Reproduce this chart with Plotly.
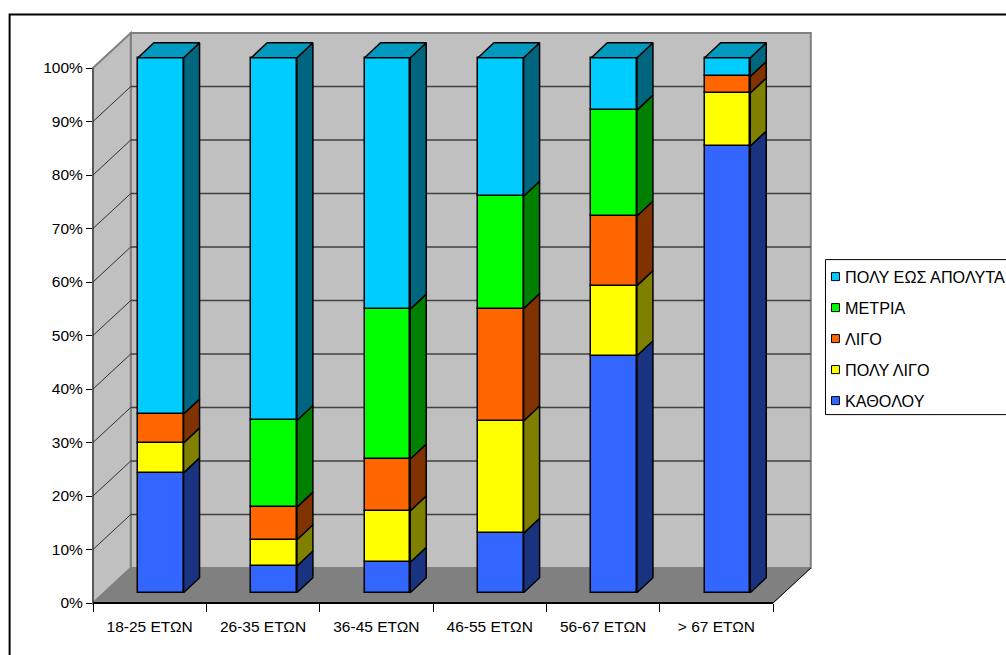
import numpy as np
import plotly.graph_objects as go

# ---- data -------------------------------------------------------------
categories = ["18-25 ΕΤΩΝ", "26-35 ΕΤΩΝ", "36-45 ΕΤΩΝ", "46-55 ΕΤΩΝ", "56-67 ΕΤΩΝ", "> 67 ΕΤΩΝ"]
series_names = ["ΚΑΘΟΛΟΥ", "ΠΟΛΥ ΛΙΓΟ", "ΛΙΓΟ", "ΜΕΤΡΙΑ", "ΠΟΛΥ ΕΩΣ ΑΠΟΛΥΤΑ"]
katholou = [22.4, 5.0, 5.7, 11.1, 44.3, 83.5]
poly_ligo = [5.6, 4.9, 9.6, 21.0, 13.1, 9.9]
ligo = [5.4, 6.1, 9.7, 21.0, 13.0, 3.1]
metria = [0.0, 16.2, 28.0, 21.0, 19.8, 0.0]
poly_eos_apolyta = [66.6, 67.8, 47.0, 25.9, 9.8, 3.5]
percent_ticks = list(range(0, 101, 10))

front_colors = ["#3366FF", "#FFFF00", "#FF6600", "#00FF00", "#00CCFF"]
side_colors = ["#1A3380", "#808000", "#803300", "#008000", "#006680"]
top_color = "#0099BF"

# ---- oblique projection: one category = 113.5 px, one percent = 5.35 px
PX_X, PX_Y = 113.5, 5.35
LEFT, BOTTOM, WIDTH, HEIGHT = 92.5, 603.4, 719, 571
x_max, y_max = WIDTH / PX_X, HEIGHT / PX_Y
DEPTH_X, DEPTH_Y = 37.8 / PX_X, 35 / PX_Y      # full depth of the chart box
BAR_DX, BAR_DY = 10.2 / PX_X, 10.3 / PX_Y      # front face of a bar inside the box
SIDE_DX, SIDE_DY = 16 / PX_X, 15 / PX_Y        # depth of a bar
BAR_WIDTH = 45.7 / PX_X
BAR_INSET = 34.8 / PX_X


def paper_x(px):
    return (px - LEFT) / WIDTH


def paper_y(py):
    return (BOTTOM - py) / HEIGHT


def polygon(points, **style):
    """Box wall drawn under the traces; points are in axis units."""
    path = "M" + " L".join(f"{x / x_max:.5f},{y / y_max:.5f}" for x, y in points) + " Z"
    return dict(type="path", xref="paper", yref="paper", path=path, layer="below", **style)


def segment(x0, y0, x1, y1, color, width):
    return dict(type="line", xref="paper", yref="paper", layer="below",
                x0=x0 / x_max, y0=y0 / y_max, x1=x1 / x_max, y1=y1 / y_max,
                line=dict(color=color, width=width))


shapes = []
wall_right = 6 + DEPTH_X
wall_top = 100 + DEPTH_Y
# back wall, left wall, floor
shapes.append(polygon([(DEPTH_X, DEPTH_Y), (wall_right, DEPTH_Y), (wall_right, wall_top), (DEPTH_X, wall_top)],
                      fillcolor="#C0C0C0", line=dict(color="#808080", width=2)))
shapes.append(polygon([(0, 0), (DEPTH_X, DEPTH_Y), (DEPTH_X, wall_top), (0, 100)],
                      fillcolor="#C0C0C0", line=dict(color="#808080", width=2)))
shapes.append(polygon([(0, 0), (6, 0), (wall_right, DEPTH_Y), (DEPTH_X, DEPTH_Y)],
                      fillcolor="#808080", line=dict(color="#808080", width=1)))
# percent gridlines run across the left wall and along the back wall
for v in percent_ticks[1:-1]:
    shapes.append(segment(0, v, DEPTH_X, v + DEPTH_Y, "#303030", 1))
    shapes.append(segment(DEPTH_X, v + DEPTH_Y, wall_right, v + DEPTH_Y, "#404040", 1.3))
# axis edges of the box
shapes.append(segment(0, 0, 0, 100, "#303030", 1))
shapes.append(segment(0, 0, 6, 0, "#000000", 2))
shapes.append(segment(6, 0, wall_right, DEPTH_Y, "#000000", 1))

# outer chart frame, running off the page on the right and at the bottom
shapes.append(dict(type="rect", xref="paper", yref="paper", layer="below",
                   x0=paper_x(9), x1=paper_x(1100), y0=paper_y(15), y1=paper_y(800),
                   line=dict(color="#000000", width=2), fillcolor="rgba(0,0,0,0)"))

# ---- traces -----------------------------------------------------------
values = [katholou, poly_ligo, ligo, metria, poly_eos_apolyta]
fig = go.Figure()
lefts = np.arange(6) + BAR_INSET + BAR_DX
centres = lefts + BAR_WIDTH / 2
rights = lefts + BAR_WIDTH
lower = np.zeros(6)
outline = dict(color="#000000", width=1.5)

for name, vals, front, side in zip(series_names, values, front_colors, side_colors):
    vals = np.array(vals, dtype=float)
    upper = lower + vals
    fig.add_bar(x=centres, y=vals, base=lower + BAR_DY, width=BAR_WIDTH, name=name,
                marker=dict(color=front, line=outline), showlegend=False, hoverinfo="name+y")
    # right-hand faces of the same segments
    xs, ys = [], []
    for r, lo, hi, v in zip(rights, lower, upper, vals):
        if v <= 0:
            continue
        xs += [r, r, r + SIDE_DX, r + SIDE_DX, r, None]
        ys += [lo + BAR_DY, hi + BAR_DY, hi + BAR_DY + SIDE_DY, lo + BAR_DY + SIDE_DY, lo + BAR_DY, None]
    fig.add_scatter(x=xs, y=ys, mode="lines", fill="toself", fillcolor=side, line=outline,
                    showlegend=False, hoverinfo="skip", cliponaxis=False)
    lower = upper

# top faces of the columns
xs, ys = [], []
for l, r, t in zip(lefts, rights, lower):
    t = t + BAR_DY
    xs += [l, r, r + SIDE_DX, l + SIDE_DX, l, None]
    ys += [t, t, t + SIDE_DY, t + SIDE_DY, t, None]
fig.add_scatter(x=xs, y=ys, mode="lines", fill="toself", fillcolor=top_color, line=outline,
                showlegend=False, hoverinfo="skip", cliponaxis=False)

# ---- key, listed top to bottom in reverse stacking order -----------------
FONT = "Liberation Sans, Arial, sans-serif"
annotations = []
shapes.append(dict(type="rect", xref="paper", yref="paper",
                   x0=paper_x(826), x1=paper_x(1100), y0=paper_y(260), y1=paper_y(415),
                   line=dict(color="#000000", width=1), fillcolor="#FFFFFF"))
for i, (name, color) in enumerate(zip(series_names[::-1], front_colors[::-1])):
    row_y = 277 + i * 31
    shapes.append(dict(type="rect", xref="paper", yref="paper",
                       x0=paper_x(832), x1=paper_x(840), y0=paper_y(row_y - 4), y1=paper_y(row_y + 4),
                       line=dict(color="#000000", width=1), fillcolor=color))
    annotations.append(dict(xref="paper", yref="paper", x=paper_x(844), y=paper_y(row_y),
                            xanchor="left", yanchor="middle", text=name, showarrow=False,
                            font=dict(family=FONT, size=16.2, color="#000000")))

# ---- layout -----------------------------------------------------------
fig.update_layout(
    width=1006, height=655, autosize=False,
    margin=dict(l=LEFT, r=1006 - LEFT - WIDTH, t=BOTTOM - HEIGHT, b=655 - BOTTOM, autoexpand=False),
    paper_bgcolor="#FFFFFF", plot_bgcolor="rgba(0,0,0,0)",
    barmode="overlay", bargap=0, showlegend=False,
    shapes=shapes, annotations=annotations,
    font=dict(family=FONT, size=15.5, color="#000000"),
    xaxis=dict(range=[0, x_max], tickmode="array", tickvals=np.arange(6) + 0.5, ticktext=categories,
               ticks="", showgrid=False, zeroline=False, showline=False, ticklabelstandoff=12,
               minor=dict(tickmode="array", tickvals=list(range(7)), ticks="outside",
                          ticklen=8, tickwidth=1, tickcolor="#000000", showgrid=False),
               tickfont=dict(size=15.5)),
    yaxis=dict(range=[0, y_max], tickmode="array", tickvals=percent_ticks,
               ticktext=[f"{v}%" for v in percent_ticks], ticks="outside", ticklen=6, tickwidth=1,
               tickcolor="#000000", showgrid=False, zeroline=False, showline=False,
               tickfont=dict(size=15.5)),
)

fig.write_html("out.html", config=dict(displayModeBar=False, responsive=False))
